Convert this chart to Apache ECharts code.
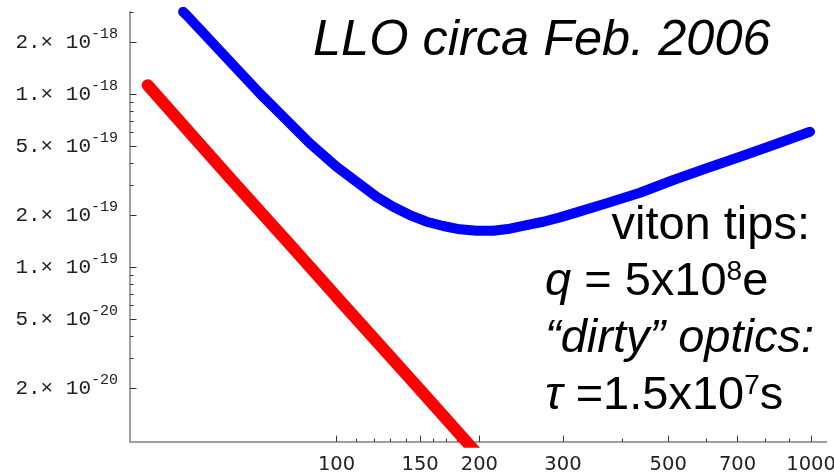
<!DOCTYPE html>
<html><head><meta charset="utf-8">
<script src="https://cdn.jsdelivr.net/npm/echarts@6/dist/echarts.min.js"></script>
<style>html,body{margin:0;padding:0;background:#fff}#c{width:834px;height:472px}</style>
</head><body><div id="c"></div>
<script>
// ---- data (frequency in Hz, strain amplitude) ----
const redFreq   = [40, 60, 80, 100, 150, 200];
const redValues = [1.13e-18, 3.22e-19, 1.34e-19, 6.75e-20, 1.96e-20, 8.1e-21];

const blueFreq   = [47.5, 48.3, 54.9, 61.5, 68.9, 77.2, 87.8, 100, 113.8, 121.4, 131.6, 142.7, 154.8, 167.8, 182.0, 197.3, 213.9, 232.0, 251.5, 272.7, 295.7, 315.5, 371.0, 436.0, 512.6, 602.7, 708.6, 832.8, 995];
const blueValues = [3.0e-18, 2.87e-18, 1.97e-18, 1.413e-18, 1.013e-18, 7.42e-19, 5.21e-19, 3.815e-19, 2.923e-19, 2.559e-19, 2.24e-19, 2.006e-19, 1.835e-19, 1.733e-19, 1.659e-19, 1.628e-19, 1.628e-19, 1.672e-19, 1.756e-19, 1.835e-19, 1.945e-19, 2.051e-19, 2.344e-19, 2.698e-19, 3.197e-19, 3.735e-19, 4.357e-19, 5.093e-19, 6.08e-19];

const xMajorTicks = [100, 150, 200, 300, 500, 700, 1000];
const xTickLabels = ['100', '150', '200', '300', '500', '700', '1000'];
const xMinorTicks = [110, 120, 130, 140, 160, 170, 180, 190, 400, 600, 800, 900];

const yMajorTicks   = [2e-20, 5e-20, 1e-19, 2e-19, 5e-19, 1e-18, 2e-18];
const yTickMantissa = ['2.', '5.', '1.', '2.', '5.', '1.', '2.'];
const yTickExponent = ['-20', '-20', '-19', '-19', '-19', '-18', '-18'];
const yMinorTicks   = [3e-20, 4e-20, 6e-20, 7e-20, 8e-20, 9e-20, 3e-19, 4e-19, 6e-19, 7e-19, 8e-19, 9e-19, 3e-18];

const titleText = 'LLO circa Feb. 2006';

// ---- chart ----
const chart = echarts.init(document.getElementById('c'), null, {renderer: 'canvas'});
const X_MIN = 36.7, X_MAX = 1079, Y_MIN = 9.82e-21, Y_MAX = 3e-18;

function findIdx(arr, v) {
  for (let i = 0; i < arr.length; i++) if (Math.abs(arr[i] - v) / arr[i] < 1e-3) return i;
  return -1;
}
const axisGray = '#808080';
const tickColor = '#333';

const option = {
  animation: false,
  backgroundColor: '#ffffff',
  grid: {left: 130, right: 7.3, top: 11.8, bottom: 30.3, containLabel: false, outerBoundsMode: 'none'},
  xAxis: [
    {
      type: 'log', logBase: 10, min: X_MIN, max: X_MAX, position: 'bottom',
      axisLine: {show: true, lineStyle: {color: axisGray, width: 1.5}},
      axisTick: {show: true, inside: true, length: 6, customValues: xMajorTicks, lineStyle: {color: tickColor, width: 1}},
      axisLabel: {
        show: true, customValues: xMajorTicks, margin: 13,
        fontFamily: 'DejaVu Sans', fontSize: 19.5, color: '#222',
        formatter: v => { const i = findIdx(xMajorTicks, v); return i >= 0 ? xTickLabels[i] : ''; }
      },
      splitLine: {show: false}, minorTick: {show: false}, minorSplitLine: {show: false}
    },
    {
      type: 'log', logBase: 10, min: X_MIN, max: X_MAX, position: 'bottom',
      axisLine: {show: false},
      axisTick: {show: true, inside: true, length: 3, customValues: xMinorTicks, lineStyle: {color: tickColor, width: 1}},
      axisLabel: {show: false},
      splitLine: {show: false}
    }
  ],
  yAxis: [
    {
      type: 'log', logBase: 10, min: Y_MIN, max: Y_MAX, position: 'left',
      axisLine: {show: true, lineStyle: {color: axisGray, width: 1.5}},
      axisTick: {show: true, inside: true, length: 6.5, customValues: yMajorTicks, lineStyle: {color: tickColor, width: 1}},
      axisLabel: {
        show: true, customValues: yMajorTicks, margin: 12,
        formatter: v => {
          const i = findIdx(yMajorTicks, v);
          return i >= 0 ? '{m|' + yTickMantissa[i] + '× 10}{e|' + yTickExponent[i] + '}' : '';
        },
        rich: {
          m: {fontFamily: 'Liberation Mono', fontSize: 21, color: '#222', lineHeight: 32, verticalAlign: 'middle'},
          e: {fontFamily: 'Liberation Mono', fontSize: 15, color: '#222', lineHeight: 15, verticalAlign: 'top'}
        }
      },
      splitLine: {show: false}, minorTick: {show: false}, minorSplitLine: {show: false}
    },
    {
      type: 'log', logBase: 10, min: Y_MIN, max: Y_MAX, position: 'left',
      axisLine: {show: false},
      axisTick: {show: true, inside: true, length: 3.5, customValues: yMinorTicks, lineStyle: {color: tickColor, width: 1}},
      axisLabel: {show: false},
      splitLine: {show: false}
    }
  ],
  series: [
    {
      type: 'line', xAxisIndex: 0, yAxisIndex: 0, symbol: 'none', clip: true,
      data: redFreq.map((f, i) => [f, redValues[i]]),
      lineStyle: {color: '#ff0000', width: 12, cap: 'round'}
    },
    {
      type: 'line', xAxisIndex: 0, yAxisIndex: 0, symbol: 'none', clip: true,
      smooth: false,
      data: blueFreq.map((f, i) => [f, blueValues[i]]),
      lineStyle: {color: '#0000ff', width: 10, cap: 'round', join: 'round'}
    }
  ],
  graphic: [
    {type: 'text', x: 313, y: 41, style: {text: titleText, fontFamily: 'Liberation Sans', fontStyle: 'italic', fontSize: 50.5, fill: '#000', align: 'left', verticalAlign: 'middle'}},
    {type: 'text', x: 810, y: 226, style: {text: 'viton tips:', fontFamily: 'Liberation Sans', fontSize: 47, fill: '#000', align: 'right', verticalAlign: 'middle'}},
    {type: 'text', x: 545, y: 282, style: {
      text: '{i|q}{r| = 5x10}{s|8}{r|e}', align: 'left', verticalAlign: 'middle',
      rich: {
        i: {fontFamily: 'Liberation Sans', fontStyle: 'italic', fontSize: 47, lineHeight: 47, verticalAlign: 'middle', fill: '#000'},
        r: {fontFamily: 'Liberation Sans', fontSize: 47, lineHeight: 47, verticalAlign: 'middle', fill: '#000'},
        s: {fontFamily: 'Liberation Sans', fontSize: 28, lineHeight: 33, verticalAlign: 'top', fill: '#000'}
      }}},
    {type: 'text', x: 545, y: 339, style: {text: '\u201Cdirty\u201D optics:', fontFamily: 'Liberation Sans', fontStyle: 'italic', fontSize: 47, fill: '#000', align: 'left', verticalAlign: 'middle'}},
    {type: 'text', x: 545, y: 396, style: {
      text: '{i|\u03C4}{r| =1.5x10}{s|7}{r|s}', align: 'left', verticalAlign: 'middle',
      rich: {
        i: {fontFamily: 'Liberation Sans', fontStyle: 'italic', fontSize: 47, lineHeight: 47, verticalAlign: 'middle', fill: '#000'},
        r: {fontFamily: 'Liberation Sans', fontSize: 47, lineHeight: 47, verticalAlign: 'middle', fill: '#000'},
        s: {fontFamily: 'Liberation Sans', fontSize: 28, lineHeight: 33, verticalAlign: 'top', fill: '#000'}
      }}}
  ]
};
chart.setOption(option);
</script>
</body></html>
